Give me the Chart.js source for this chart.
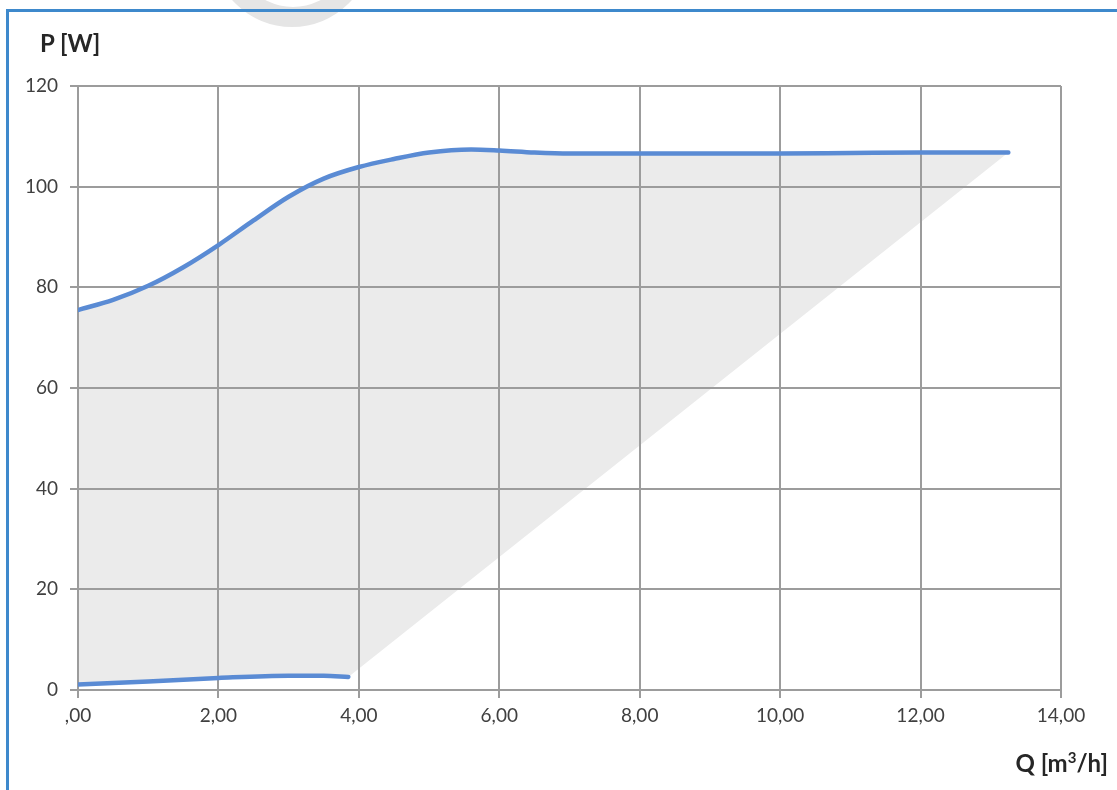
<!DOCTYPE html>
<html>
<head>
<meta charset="utf-8">
<title>P-Q chart</title>
<script src="https://cdn.jsdelivr.net/npm/chart.js@4/dist/chart.umd.min.js"></script>
<style>
  html, body { margin: 0; padding: 0; background: #fff; overflow: hidden; }
  #page { position: relative; width: 1117px; height: 790px; overflow: hidden; }
  #mark { position: absolute; left: 212px; top: -133px; width: 160px; height: 160px; border-radius: 50%; background: #e5e5e5; }
  #markHole { position: absolute; left: 226px; top: -148px; width: 134px; height: 155px; border-radius: 50%; background: #fff; }
  #frame { position: absolute; left: 6px; top: 9px; width: 1200px; height: 900px; border-top: 3px solid #3e89cc; border-left: 3px solid #3e89cc; }
  #wrap { position: absolute; left: 0; top: 0; width: 1117px; height: 790px; }
  .lbl { position: absolute; font-family: Lato, 'Open Sans', sans-serif; font-weight: bold; color: #262626; font-size: 24px; }
  #yTitle { left: 40px; top: 28px; }
  #xTitle { right: 9px; top: 748px; }
</style>
</head>
<body>
<div id="page">
  <div id="mark"></div>
  <div id="markHole"></div>
  <div id="frame"></div>
  <div id="wrap"><canvas id="myChart"></canvas></div>
  <div class="lbl" id="yTitle">P [W]</div>
  <div class="lbl" id="xTitle">Q [m<sup style="font-size:15px">3</sup>/h]</div>
</div>
<script>
'use strict';
// upper curve (max power)
let upperQ = [0, 0.5, 1, 1.5, 2, 2.5, 3, 3.5, 4, 4.5, 5, 5.6, 6, 6.5, 7, 8, 9, 10, 11, 12, 13.25];
let upperP = [75.5, 77.5, 80.3, 84.0, 88.4, 93.3, 98.0, 101.6, 103.9, 105.5, 106.8, 107.4, 107.2, 106.8, 106.6, 106.6, 106.6, 106.6, 106.7, 106.8, 106.8];

// lower curve (min power)
let lowerQ = [0, 1, 2, 3, 3.5, 3.85];
let lowerP = [1.1, 1.7, 2.4, 2.85, 2.85, 2.6];

// axis ticks
let xTickLabels = [',00', '2,00', '4,00', '6,00', '8,00', '10,00', '12,00', '14,00'];
let yTicks = [0, 20, 40, 60, 80, 100, 120];

function toPoints(qs, ps) {
  let pts = [];
  for (let i = 0; i < qs.length; i++) {
    pts.push({ x: qs[i], y: ps[i] });
  }
  return pts;
}

let upperPts = toPoints(upperQ, upperP);
let lowerPts = toPoints(lowerQ, lowerP);
// edge of grey area: lower curve, then straight to the end of the upper curve
let edgePts = lowerPts.concat([upperPts[upperPts.length - 1]]);

let lineBlue = '#5a8bd4';
let gridGrey = '#9c9c9c';
let tickFont = { family: 'Lato', size: 19 };

let ctx = document.getElementById('myChart').getContext('2d');
let myChart = new Chart(ctx, {
  type: 'line',
  data: {
    datasets: [
      {
        data: upperPts,
        borderColor: lineBlue,
        borderWidth: 4.5,
        borderCapStyle: 'round',
        pointRadius: 0,
        cubicInterpolationMode: 'monotone',
        backgroundColor: '#ebebeb',
        fill: { target: 2 }
      },
      {
        data: lowerPts,
        borderColor: lineBlue,
        borderWidth: 4.5,
        borderCapStyle: 'round',
        pointRadius: 0,
        cubicInterpolationMode: 'monotone',
        fill: false
      },
      {
        data: edgePts,
        borderWidth: 0,
        borderColor: 'rgba(0,0,0,0)',
        pointRadius: 0,
        tension: 0,
        fill: false
      }
    ]
  },
  options: {
    responsive: true,
    maintainAspectRatio: false,
    animation: false,
    layout: { padding: { left: 10, right: 56, top: 86, bottom: 20 } },
    plugins: {
      legend: { display: false },
      tooltip: { enabled: false },
      filler: { drawTime: 'beforeDraw' }
    },
    scales: {
      x: {
        type: 'linear',
        min: 0,
        max: 14,
        afterFit: function (scale) { scale.height = 80; },
        afterBuildTicks: function (scale) {
          scale.ticks = xTickLabels.map(function (t, i) { return { value: i * 2 }; });
        },
        ticks: {
          maxRotation: 0,
          padding: 6,
          color: '#404040',
          font: tickFont,
          callback: function (v, i) { return xTickLabels[i]; }
        },
        grid: { color: gridGrey, lineWidth: 2, tickLength: 8 },
        border: { color: gridGrey, width: 2 }
      },
      y: {
        min: 0,
        max: 120,
        afterFit: function (scale) { scale.width = 68; },
        afterBuildTicks: function (scale) {
          scale.ticks = yTicks.map(function (v) { return { value: v }; });
        },
        ticks: {
          padding: 12,
          color: '#404040',
          font: tickFont
        },
        grid: { color: gridGrey, lineWidth: 2, tickLength: 8 },
        border: { color: gridGrey, width: 2 }
      }
    }
  }
});
</script>
</body>
</html>
